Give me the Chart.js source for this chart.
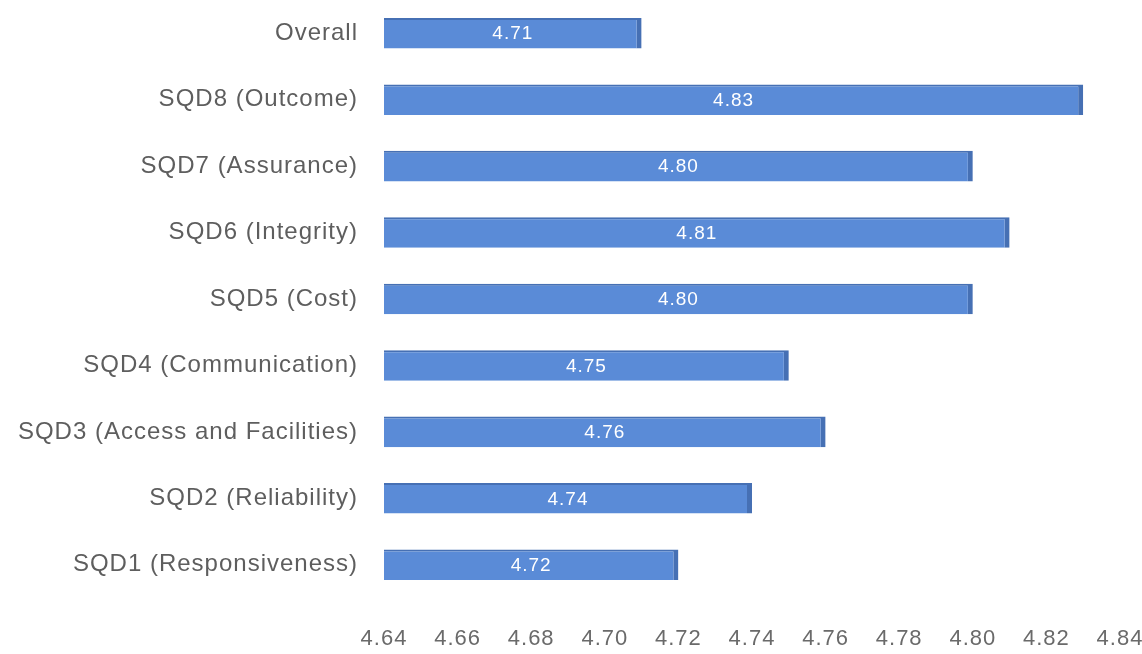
<!DOCTYPE html>
<html>
<head>
  <meta charset="UTF-8">
  <title>SQD ratings</title>
  <script src="https://cdn.jsdelivr.net/npm/chart.js"></script>
  <style>
    body { margin: 0; background: #fff; }
    canvas { display: block; }
  </style>
</head>
<body>
  <canvas id="chart" width="1142" height="654"></canvas>

  <script>
    const categories = [
      "Overall",
      "SQD8 (Outcome)",
      "SQD7 (Assurance)",
      "SQD6 (Integrity)",
      "SQD5 (Cost)",
      "SQD4 (Communication)",
      "SQD3 (Access and Facilities)",
      "SQD2 (Reliability)",
      "SQD1 (Responsiveness)"
    ];
    const ratings = [4.71, 4.83, 4.80, 4.81, 4.80, 4.75, 4.76, 4.74, 4.72];
    const axisMin = 4.64;
    const axisMax = 4.84;
    const axisStep = 0.02;

    const fontFamily = "'Liberation Sans', Arial, sans-serif";

    // the reference text is loosely spaced; canvas resets state on resize so set it on every pass
    const spacing = {
      id: "spacing",
      beforeUpdate(chart) { chart.ctx.letterSpacing = "1px"; },
      beforeDraw(chart) { chart.ctx.letterSpacing = "1px"; }
    };

    // white value text in the middle of every bar
    const valueLabels = {
      id: "valueLabels",
      afterDraw(chart) {
        const c = chart.ctx;
        const xs = chart.scales.x;
        const ys = chart.scales.y;
        c.save();
        c.fillStyle = "#ffffff";
        c.font = "19px " + fontFamily;
        c.textAlign = "center";
        c.textBaseline = "middle";
        ratings.forEach((v, i) => {
          const x = (xs.getPixelForValue(axisMin) + xs.getPixelForValue(v)) / 2;
          c.fillText(v.toFixed(2), x, ys.getPixelForValue(i) + 1);
        });
        c.restore();
      }
    };

    const ctx = document.getElementById("chart").getContext("2d");
    new Chart(ctx, {
      type: "bar",
      data: {
        labels: categories,
        datasets: [{
          data: ratings,
          backgroundColor: "#5a8bd7",
          borderColor: "#4670b4",
          borderWidth: { top: 2, right: 5, bottom: 0, left: 0 },
          borderSkipped: false,
          barPercentage: 0.46,
          categoryPercentage: 1
        }]
      },
      options: {
        indexAxis: "y",
        animation: false,
        responsive: false,
        devicePixelRatio: 1,
        layout: { padding: 0 },
        scales: {
          x: {
            min: axisMin,
            max: axisMax,
            grid: { display: false, drawTicks: false },
            border: { display: false },
            ticks: {
              stepSize: axisStep,
              padding: 28,
              color: "#6a6a6a",
              font: { family: fontFamily, size: 22 },
              callback: v => Number(v).toFixed(2)
            },
            afterFit(scale) {
              scale.height = 56;
              scale.paddingLeft = 0;
              scale.paddingRight = 22;
            }
          },
          y: {
            grid: { display: false, drawTicks: false },
            border: { display: false },
            ticks: {
              padding: 26,
              color: "#5e5e5e",
              font: { family: fontFamily, size: 24 }
            },
            afterFit(scale) {
              scale.width = 384;
              scale.paddingTop = 0;
              scale.paddingBottom = 0;
            }
          }
        },
        plugins: {
          legend: { display: false },
          tooltip: { enabled: false }
        }
      },
      plugins: [spacing, valueLabels]
    });
  </script>
</body>
</html>
